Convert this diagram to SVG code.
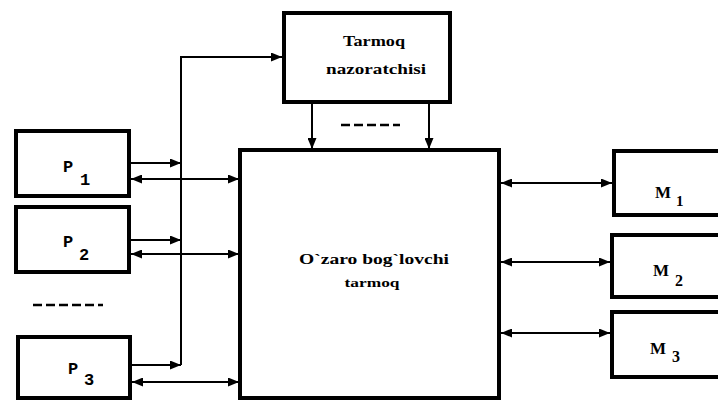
<svg xmlns="http://www.w3.org/2000/svg" width="718" height="403" viewBox="0 0 718 403">
<style>
.box{fill:#fff;stroke:#000;stroke-width:4}
.con{fill:none;stroke:#000;stroke-width:2}
.dash{fill:none;stroke:#000;stroke-width:2.5;stroke-dasharray:9 4}
.t{font-family:"Liberation Serif","DejaVu Serif",serif;font-weight:bold;fill:#000}
.lbl{font-family:"Liberation Mono","DejaVu Sans Mono",monospace;font-weight:bold;fill:#000;font-size:17px}
</style>
<defs>
<marker id="ah" viewBox="0 0 11 9" refX="11" refY="4.5" markerWidth="11" markerHeight="9" markerUnits="userSpaceOnUse" orient="auto-start-reverse">
<path d="M0,0 L11,4.5 L0,9 z" fill="#000"/>
</marker>
</defs>
<rect width="718" height="403" fill="#fff"/>
<g id="connectors">
<path class="con" d="M181,365 V57 H282" marker-end="url(#ah)"/>
<path class="con" d="M129,163 H181" marker-end="url(#ah)"/>
<path class="con" d="M131,179 H239" marker-start="url(#ah)" marker-end="url(#ah)"/>
<path class="con" d="M129,240 H181" marker-end="url(#ah)"/>
<path class="con" d="M131,254 H239" marker-start="url(#ah)" marker-end="url(#ah)"/>
<path class="con" d="M130,365 H181" marker-end="url(#ah)"/>
<path class="con" d="M132,382 H239" marker-start="url(#ah)" marker-end="url(#ah)"/>
<path class="con" d="M312,103 V149" marker-end="url(#ah)"/>
<path class="con" d="M429,103 V149" marker-end="url(#ah)"/>
<path class="con" d="M501,183 H612" marker-start="url(#ah)" marker-end="url(#ah)"/>
<path class="con" d="M501,262 H610" marker-start="url(#ah)" marker-end="url(#ah)"/>
<path class="con" d="M501,333 H610" marker-start="url(#ah)" marker-end="url(#ah)"/>
<path class="dash" d="M341,125 H400"/>
<path class="dash" d="M33,305 H103"/>
</g>
<g id="controller">
<rect class="box" x="284" y="13" width="166" height="89"/>
<text class="t" x="374" y="46" font-size="15" text-anchor="middle" textLength="62" lengthAdjust="spacingAndGlyphs">Tarmoq</text>
<text class="t" x="376" y="74" font-size="15" text-anchor="middle" textLength="100" lengthAdjust="spacingAndGlyphs">nazoratchisi</text>
</g>
<g id="network">
<rect class="box" x="240" y="150" width="259" height="248"/>
<text class="t" x="374" y="264" font-size="15" text-anchor="middle" textLength="150" lengthAdjust="spacingAndGlyphs">O`zaro bog`lovchi</text>
<text class="t" x="372" y="287" font-size="13" text-anchor="middle" textLength="55" lengthAdjust="spacingAndGlyphs">tarmoq</text>
</g>
<g id="P1">
<rect class="box" x="16" y="131" width="113" height="65"/>
<text class="lbl" x="63" y="172">P</text><text class="lbl" x="80" y="185">1</text>
</g>
<g id="P2">
<rect class="box" x="16" y="207" width="113" height="65"/>
<text class="lbl" x="63" y="247">P</text><text class="lbl" x="79" y="260">2</text>
</g>
<g id="P3">
<rect class="box" x="18" y="337" width="112" height="61"/>
<text class="lbl" x="68" y="374">P</text><text class="lbl" x="84" y="385">3</text>
</g>
<g id="M1">
<rect class="box" x="614" y="151" width="112" height="64"/>
<text class="t" x="655" y="198" font-size="17">M</text><text class="t" x="676" y="206" font-size="15">1</text>
</g>
<g id="M2">
<rect class="box" x="612" y="235" width="112" height="62"/>
<text class="t" x="653" y="276" font-size="17">M</text><text class="t" x="675" y="286" font-size="16">2</text>
</g>
<g id="M3">
<rect class="box" x="612" y="312" width="112" height="65"/>
<text class="t" x="650" y="354" font-size="17">M</text><text class="t" x="672" y="362" font-size="16">3</text>
</g>
</svg>
